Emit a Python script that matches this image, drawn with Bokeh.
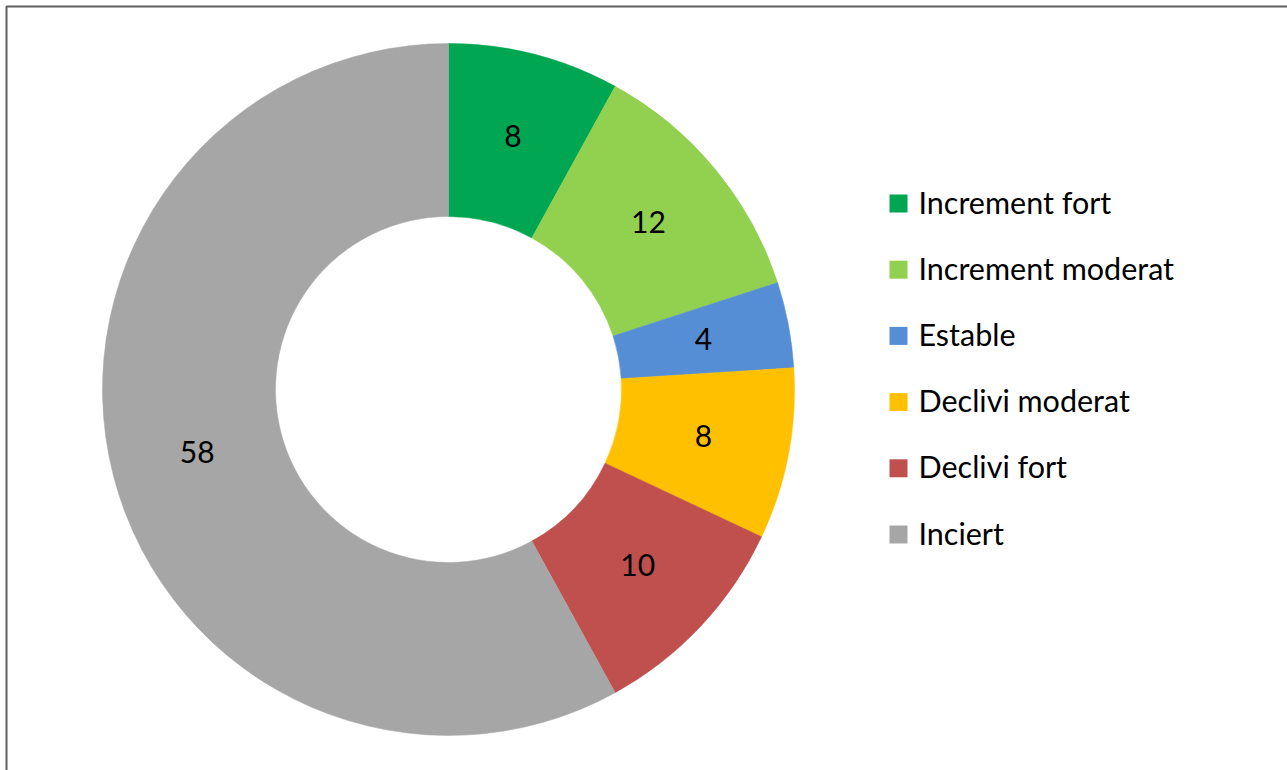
import numpy as np
from bokeh.plotting import figure
from bokeh.models import Range1d, ColumnDataSource
from bokeh.core.properties import value
from bokeh.embed import file_html
from bokeh.resources import INLINE

categories = ["Increment fort", "Increment moderat", "Estable", "Declivi moderat", "Declivi fort", "Inciert"]
values = [8, 12, 4, 8, 10, 58]
colors = ["#00A651", "#92D050", "#558ED5", "#FFC000", "#C0504D", "#A6A6A6"]

W, H = 1287, 770
FONT = "Lato"

p = figure(width=W, height=H, output_backend="svg", toolbar_location=None,
           x_range=Range1d(0, W), y_range=Range1d(0, H), min_border=0)
p.axis.visible = False
p.grid.visible = False
p.outline_line_color = None
p.background_fill_color = "white"
p.border_fill_color = "white"

cx, cy = 448, H - 389
r_out, r_in = 346, 173

vals = np.array(values, dtype=float)
frac = vals / vals.sum()
cum = np.concatenate([[0], np.cumsum(frac)])
start = np.pi / 2 - 2 * np.pi * cum[:-1]
end = np.pi / 2 - 2 * np.pi * cum[1:]
mid = (start + end) / 2
r_mid = (r_in + r_out) / 2

src = ColumnDataSource(dict(
    start=start, end=end, color=colors, cat=categories,
    lx=cx + r_mid * np.cos(mid), ly=cy + r_mid * np.sin(mid) + 2,
    lab=[str(v) for v in values],
))

p.annular_wedge(x=cx, y=cy, inner_radius=r_in, outer_radius=r_out,
                start_angle="start", end_angle="end", direction="clock",
                fill_color="color", line_color="color", line_width=0.5, source=src)

p.text(x="lx", y="ly", text="lab", source=src, text_align="center",
       text_baseline="middle", text_font=value(FONT), text_font_size="30px",
       text_color="black")

# legend
leg_y0 = H - 203 + 2
leg_step = 66.2
ly = [leg_y0 - i * leg_step for i in range(len(categories))]
lsrc = ColumnDataSource(dict(y=ly, sy=[v - 2 for v in ly], color=colors, cat=categories))
p.rect(x=898, y="sy", width=18, height=18, fill_color="color", line_color=None, source=lsrc)
p.text(x=918, y="y", text="cat", source=lsrc, text_align="left", text_baseline="middle",
       text_font=value(FONT), text_font_size="30.5px", text_color="black")

# chart-area border (left and top visible)
p.line(x=[6, 6, W + 10], y=[-10, H - 6, H - 6], line_color="#5F5F5F", line_width=2)

open("out.html", "w").write(file_html(p, INLINE))
